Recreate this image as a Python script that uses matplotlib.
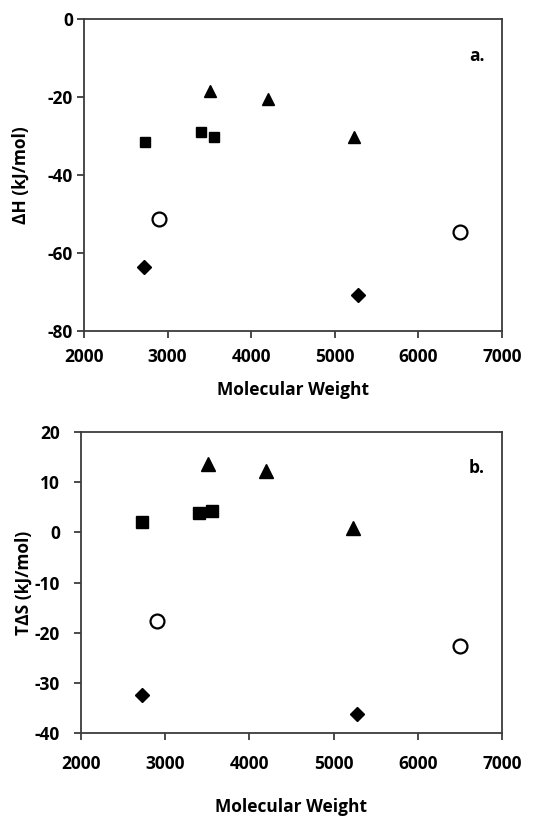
import matplotlib
matplotlib.use("Agg")
import matplotlib.pyplot as plt

plt.rcParams['font.family'] = ['Open Sans', 'DejaVu Sans']
plt.rcParams['font.weight'] = 'bold'
plt.rcParams['axes.unicode_minus'] = False

# molecular weights per series
mw_square = [2730, 3400, 3560]
mw_triangle = [3510, 4200, 5230]
mw_circle = [2900, 6500]
mw_diamond = [2720, 5280]

# panel a: enthalpy (kJ/mol)
dh_square = [-31.6, -28.9, -30.3]
dh_triangle = [-18.4, -20.4, -30.3]
dh_circle = [-51.3, -54.7]
dh_diamond = [-63.7, -70.9]

# panel b: T*entropy (kJ/mol)
tds_square = [2.0, 3.8, 4.3]
tds_triangle = [13.6, 12.2, 0.9]
tds_circle = [-17.7, -22.6]
tds_diamond = [-32.4, -36.2]

xticks = [2000, 3000, 4000, 5000, 6000, 7000]
yticks_a = [0, -20, -40, -60, -80]
yticks_b = [20, 10, 0, -10, -20, -30, -40]

spine_col = '#3c3c3c'
fs = 12.5


def draw_panel(ax, ys, yticks, ylabel, tag, big=False):
    sq, tri, circ, dia = ys
    k = 1.1 if big else 1.0
    ax.plot(mw_square, sq, 's', color='black', markersize=7.5 * k, linestyle='none')
    ax.plot(mw_triangle, tri, '^', color='black', markersize=9 * k, linestyle='none')
    ax.plot(mw_circle, circ, 'o', markerfacecolor='white', markeredgecolor='black',
            markeredgewidth=1.6, markersize=10, linestyle='none')
    ax.plot(mw_diamond, dia, 'D', color='black', markersize=7, linestyle='none')

    ax.set_xlim(2000, 7000)
    ax.set_ylim(min(yticks), max(yticks))
    ax.set_xticks(xticks)
    ax.set_yticks(yticks)
    for s in ax.spines.values():
        s.set_color(spine_col)
        s.set_linewidth(1.3)
    ax.tick_params(direction='out', length=5, width=1.3, color=spine_col,
                   labelsize=fs, labelcolor='black')
    for lab in ax.get_xticklabels() + ax.get_yticklabels():
        lab.set_fontweight('bold')
    ax.set_xlabel('Molecular Weight', fontsize=fs, fontweight='bold')
    ax.set_ylabel(ylabel, fontsize=fs, fontweight='bold')
    ax.text(0.94, 0.88, tag, transform=ax.transAxes, fontsize=fs,
            fontweight='bold', ha='center', va='center')


fig = plt.figure(figsize=(5.36, 8.17), dpi=100)

ax1 = fig.add_axes([0.1567, 0.5949, 0.7799, 0.3818])
draw_panel(ax1, (dh_square, dh_triangle, dh_circle, dh_diamond), yticks_a,
           'ΔH (kJ/mol)', 'a.')
ax1.tick_params(axis='x', pad=7)
ax1.tick_params(axis='y', pad=3)
ax1.xaxis.set_label_coords(0.5, -0.16)
ax1.yaxis.set_label_coords(-0.13, 0.5)

ax2 = fig.add_axes([0.1511, 0.1028, 0.7854, 0.3684])
draw_panel(ax2, (tds_square, tds_triangle, tds_circle, tds_diamond), yticks_b,
           'TΔS (kJ/mol)', 'b.', big=True)
ax2.tick_params(axis='x', pad=11)
ax2.tick_params(axis='y', pad=10)
ax2.xaxis.set_label_coords(0.5, -0.215)
ax2.yaxis.set_label_coords(-0.115, 0.5)

fig.savefig('out.png', dpi=100)
